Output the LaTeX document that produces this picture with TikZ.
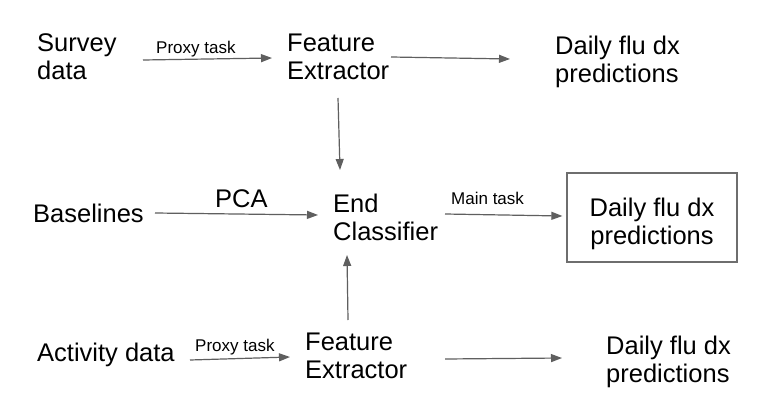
\documentclass[tikz,border=0pt]{standalone}
\usepackage{fontspec}
\setmainfont{Liberation Sans}
\usetikzlibrary{arrows.meta}
\definecolor{arrgray}{RGB}{95,95,95}
\definecolor{boxgray}{RGB}{110,110,110}
\begin{document}
\begin{tikzpicture}[x=1pt,y=1pt,
  big/.style={font=\fontsize{25.5}{28}\selectfont, inner sep=0pt, anchor=base west, align=left},
  small/.style={font=\fontsize{17}{20}\selectfont, inner sep=0pt, anchor=base west},
  arr/.style={draw=arrgray, line width=1.2pt, -{Triangle[length=11pt,width=8pt]}}]
\useasboundingbox (0,0) rectangle (762,410);
\fill[white] (0,0) rectangle (762,410);
% nodes (base = baseline of last line)
\node[big] (survey) at (37,330) {Survey\\data};
\node[big] (fe1) at (287,330) {Feature\\Extractor};
\node[big] (out1) at (555,327) {Daily flu dx\\predictions};
\node[big] (base) at (33,188) {Baselines};
\node[big] (ec) at (333,170) {End\\Classifier};
\node[font=\fontsize{25.5}{28}\selectfont, align=center, draw=boxgray, line width=1.2pt,
      minimum width=170pt, minimum height=89pt, inner sep=0pt] (box) at (652,192.5) {\rule{0pt}{30.5pt}Daily flu dx\\predictions};
\node[big] (act) at (37,49) {Activity data};
\node[big] (fe2) at (305,32) {Feature\\Extractor};
\node[big] (out3) at (606,28) {Daily flu dx\\predictions};
% labels
\node[small] (proxy1) at (156,356) {Proxy task};
\node[big] (pca) at (215,202) {PCA};
\node[small] (main) at (451,205) {Main task};
\node[small] (proxy2) at (195,59) {Proxy task};
% connectors
\draw[arr] ([shift={(106,20)}]survey.base west) -- ([shift={(-15,22)}]fe1.base west);
\draw[arr] ([shift={(104,23)}]fe1.base west) -- ([shift={(-45,24)}]out1.base west);
\draw[arr] ([shift={(51,-18)}]fe1.base west) -- ([shift={(7,70)}]ec.base west);
\draw[arr] ([shift={(122,9)}]base.base west) -- ([shift={(-15,25)}]ec.base west);
\draw[arr] ([shift={(112,26)}]ec.base west) -- ([shift={(-4,1.5)}]box.west);
\draw[arr] ([shift={(43,58)}]fe2.base west) -- ([shift={(14,-15)}]ec.base west);
\draw[arr] ([shift={(153,1)}]act.base west) -- ([shift={(-15,21)}]fe2.base west);
\draw[arr] ([shift={(140,19)}]fe2.base west) -- ([shift={(-44,24)}]out3.base west);
\end{tikzpicture}
\end{document}
